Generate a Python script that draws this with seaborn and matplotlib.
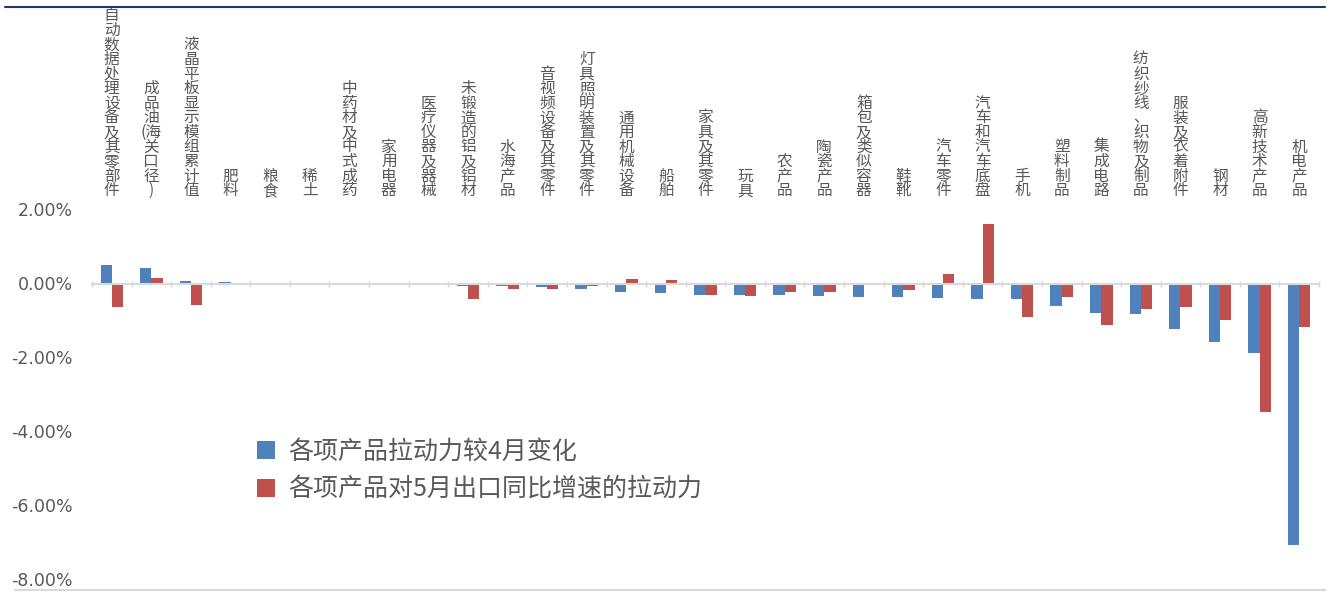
import numpy as np
import pandas as pd
import seaborn as sns
import matplotlib.pyplot as plt
from matplotlib.lines import Line2D
from matplotlib.ticker import FuncFormatter, FixedLocator

sns.set_style("white")
plt.rcParams['font.family'] = ['Noto Sans CJK SC', 'DejaVu Sans']
plt.rcParams['axes.unicode_minus'] = False

categories = ["自动数据处理设备及其零部件", "成品油(海关口径)", "液晶平板显示模组累计值", "肥料", "粮食",
              "稀土", "中药材及中式成药", "家用电器", "医疗仪器及器械", "未锻造的铝及铝材",
              "水海产品", "音视频设备及其零件", "灯具照明装置及其零件", "通用机械设备", "船舶",
              "家具及其零件", "玩具", "农产品", "陶瓷产品", "箱包及类似容器",
              "鞋靴", "汽车零件", "汽车和汽车底盘", "手机", "塑料制品",
              "集成电路", "纺织纱线、织物及制品", "服装及衣着附件", "钢材", "高新技术产品", "机电产品"]
# 各项产品拉动力较4月变化 (%)
change_vs_apr = [0.50, 0.43, 0.07, 0.04, 0.00, -0.02, -0.02, -0.05, -0.05, -0.07,
                 -0.07, -0.10, -0.16, -0.22, -0.25, -0.31, -0.31, -0.31, -0.34, -0.36,
                 -0.36, -0.38, -0.41, -0.43, -0.61, -0.80, -0.83, -1.22, -1.58, -1.89, -7.06]
# 各项产品对5月出口同比增速的拉动力 (%)
pull_may = [-0.64, 0.16, -0.58, 0.00, 0.00, -0.02, -0.02, 0.00, -0.03, -0.41,
            -0.16, -0.14, -0.06, 0.11, 0.09, -0.31, -0.34, -0.22, -0.22, 0.00,
            -0.18, 0.27, 1.60, -0.90, -0.36, -1.13, -0.68, -0.63, -0.99, -3.47, -1.17]
series_names = ["各项产品拉动力较4月变化", "各项产品对5月出口同比增速的拉动力"]
colors = ["#4F81BD", "#C0504D"]
yticks = [2, 0, -2, -4, -6, -8]

df = pd.DataFrame({
    "cat": categories * 2,
    "val": change_vs_apr + pull_may,
    "series": [series_names[0]] * len(categories) + [series_names[1]] * len(categories),
})

fig = plt.figure(figsize=(13.31, 5.92), dpi=100)
ax = fig.add_axes([92 / 1331, 1 - 579.5 / 592, (1319 - 92) / 1331, 370 / 592])

sns.barplot(data=df, x="cat", y="val", hue="series", order=categories, hue_order=series_names,
            palette=colors, saturation=1, width=0.57, ax=ax, edgecolor="none", linewidth=0)

ax.set_xlim(-0.5, len(categories) - 0.5)
ax.set_ylim(-8, 2)
ax.set_xlabel("")
ax.set_ylabel("")

# y axis
ax.set_yticks(yticks)
ax.yaxis.set_major_formatter(FuncFormatter(lambda v, p: f"{v:.2f}%"))
ax.tick_params(axis="y", length=0, pad=14, labelsize=12.5, labelcolor="#595959")
for lab in ax.get_yticklabels():
    lab.set_family("DejaVu Sans")

# category labels stacked vertically above the plot, one character per row
ax.set_xticks(range(len(categories)))
ax.set_xticklabels([])
ax.tick_params(axis="x", which="major", length=0)


def rows_of(name):
    rows = []
    for ch in name:
        if rows and rows[-1] == "(":
            rows[-1] += ch
        else:
            rows.append(ch)
    return rows


pitch = 10.5  # points between rows
for i, name in enumerate(categories):
    rows = rows_of(name)
    for j, ch in enumerate(reversed(rows)):
        ax.annotate(ch, xy=(i, 1), xycoords=("data", "axes fraction"),
                    xytext=(0, 13.5 + j * pitch), textcoords="offset points",
                    ha="center", va="center", fontsize=11.3, color="#595959",
                    annotation_clip=False)

# zero line as the category axis
for s in ["left", "right", "top"]:
    ax.spines[s].set_visible(False)
ax.spines["bottom"].set_position(("data", 0))
ax.spines["bottom"].set_color("#D9D9D9")
ax.spines["bottom"].set_linewidth(1.5)
ax.xaxis.set_minor_locator(FixedLocator(np.arange(-0.5, len(categories), 1.0)))
ax.tick_params(axis="x", which="minor", bottom=True, top=False, direction="inout",
               length=5, width=1, color="#D9D9D9")

# legend
handles, labels = ax.get_legend_handles_labels()
ax.legend(handles, labels, loc="upper left", bbox_to_anchor=(244 / 1331, 1 - 426 / 592),
          bbox_transform=fig.transFigure, frameon=False, fontsize=18, labelcolor="#595959",
          handlelength=0.75, handleheight=0.75, handletextpad=0.5, labelspacing=0.48, borderpad=0)

# bottom base line
bx = fig.add_axes([15 / 1331, 1 - 590 / 592, (1325 - 15) / 1331, 0.0001])
bx.set_xlim(0, 10.17)
bx.set_xticks(range(11))
bx.set_yticks([])
for s in ["left", "right", "top"]:
    bx.spines[s].set_visible(False)
bx.spines["bottom"].set_color("#D9D9D9")
bx.spines["bottom"].set_linewidth(1.5)
bx.tick_params(axis="x", length=4, color="#D9D9D9", labelbottom=False)
bx.patch.set_alpha(0)

# top border line
fig.add_artist(Line2D([5 / 1331, 1325 / 1331], [1 - 7 / 592, 1 - 7 / 592],
                      transform=fig.transFigure, color="#1F3864", linewidth=1.5))

fig.savefig("out.png", dpi=100)
